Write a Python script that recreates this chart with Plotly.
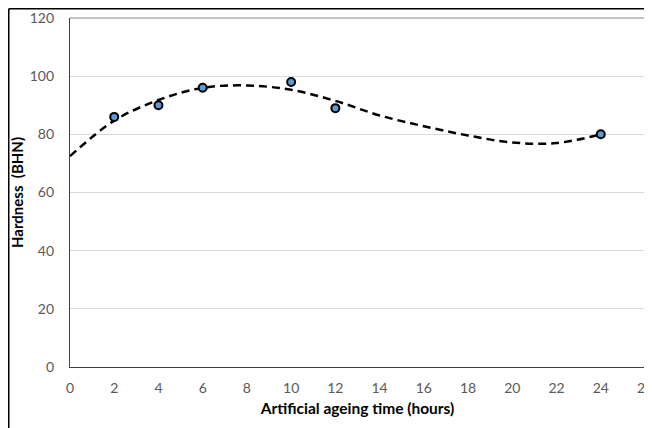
import plotly.graph_objects as go

# Measured data
time_h = [2, 4, 6, 10, 12, 24]
hardness = [86, 90, 96, 98, 89, 80]

# Trend line
trend_x = [0, 2, 4, 6, 8, 10, 12, 14, 16, 18, 20, 22, 24]
trend_y = [72.5, 84.7, 91.8, 96.0, 96.8, 95.3, 91.5, 86.5, 82.8, 79.6, 77.2, 77.0, 80.0]

x_ticks = list(range(0, 27, 2))
y_ticks = list(range(0, 121, 20))

# the page body adds an 8px offset, so the figure is 644x420
W, H = 644, 420
L, R, T, B = 62, 7, 10, 61
pw, ph = W - L - R, H - T - B

fig = go.Figure()
fig.add_trace(go.Scatter(
    x=trend_x, y=trend_y, mode="lines",
    line=dict(color="black", width=2.5, dash="8px,5px", shape="spline", smoothing=1.0),
    hoverinfo="skip", showlegend=False, cliponaxis=False))
fig.add_trace(go.Scatter(
    x=time_h, y=hardness, mode="markers",
    marker=dict(size=8, color="#5B9BD5", line=dict(color="black", width=2)),
    showlegend=False))

font_fam = "Lato, 'Open Sans', sans-serif"
fig.update_layout(
    width=W, height=H,
    margin=dict(l=L, r=R, t=T, b=B, autoexpand=False),
    paper_bgcolor="white", plot_bgcolor="white",
    font=dict(family=font_fam, color="#595959", size=14),
    xaxis=dict(range=[0, 26], tickvals=x_ticks, showgrid=False, zeroline=False,
               automargin=False, ticklabeloverflow="allow",
               showline=True, linecolor="#404040", linewidth=1.2, mirror=False,
               ticks="", tickfont=dict(size=14, color="#595959"), ticklabelstandoff=8,
               title=dict(text="Artificial ageing time (hours)",
                          font=dict(size=15.5, color="black", family=font_fam, weight="bold"),
                          standoff=8)),
    yaxis=dict(range=[0, 120], tickvals=y_ticks, showgrid=True, gridcolor="#d9d9d9",
               automargin=False, ticklabeloverflow="allow",
               gridwidth=1, zeroline=False, showline=True, linecolor="#404040",
               linewidth=1.2, ticks="", tickfont=dict(size=14, color="#595959"),
               ticklabelstandoff=12,
               title=dict(text="Hardness  (BHN)",
                          font=dict(size=15, color="black", family=font_fam, weight="bold"),
                          standoff=10)),
    shapes=[
        dict(type="line", xref="paper", yref="paper", x0=1, x1=1, y0=0, y1=1,
             line=dict(color="#808080", width=1)),
        dict(type="line", xref="paper", yref="paper", x0=0, x1=1, y0=1, y1=1,
             line=dict(color="#808080", width=1)),
        # outer frame at the figure's top-left edges
        dict(type="line", xref="paper", yref="paper",
             x0=(0.75 - L) / pw, x1=(0.75 - L) / pw, y0=-(B + 5) / ph, y1=(H - B - 0.75) / ph,
             line=dict(color="black", width=1.5)),
        dict(type="line", xref="paper", yref="paper",
             x0=(0.75 - L) / pw, x1=(W - L + 5) / pw, y0=(H - B - 0.75) / ph, y1=(H - B - 0.75) / ph,
             line=dict(color="black", width=1.5)),
    ],
)

fig.write_html("out.html")
